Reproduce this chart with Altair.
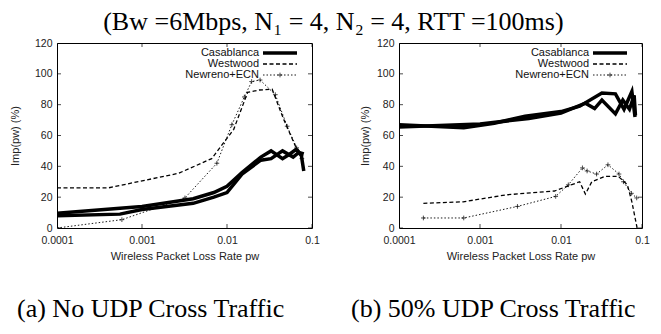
import altair as alt
import pandas as pd

# ---------------- data ----------------
# Panel (a): No UDP cross traffic
a_cas1_x = [1e-4, 6e-4, 1e-3, 4e-3, 7e-3, 1e-2, 1.5e-2, 2.5e-2, 3.3e-2, 4.5e-2, 5.5e-2, 6.5e-2, 7.5e-2, 8e-2]
a_cas1_y = [9.5, 13, 14, 19, 23, 27, 36, 46, 50, 45, 48, 51, 47, 37]
a_cas2_x = [1e-4, 5.5e-4, 1e-3, 4e-3, 7e-3, 1e-2, 1.5e-2, 2.5e-2, 3.3e-2, 4.5e-2, 6e-2, 7e-2, 8e-2]
a_cas2_y = [8, 9, 12, 16, 20, 23, 35, 44, 45, 50, 46, 49, 48]
a_ww_x = [1e-4, 4e-4, 2.7e-3, 6.6e-3, 1.2e-2, 1.75e-2, 2.4e-2, 3.4e-2, 4.6e-2, 6.4e-2, 7.8e-2]
a_ww_y = [26, 26, 35.5, 45, 64, 88, 89.5, 90, 71, 53, 47]
a_nr_x = [1e-4, 5.8e-4, 3.2e-3, 7.6e-3, 1.14e-2, 1.6e-2, 1.95e-2, 2.45e-2, 3.7e-2, 5.1e-2, 6.6e-2, 7.6e-2]
a_nr_y = [0, 5.4, 19.5, 42, 67, 85, 95, 96, 86.5, 66, 52, 45]

# Panel (b): 50% UDP cross traffic
b_cas1_x = [1e-4, 6.3e-4, 1.5e-3, 3.6e-3, 1e-2, 1.7e-2, 3.2e-2, 4.7e-2, 6e-2, 7.5e-2, 8.2e-2]
b_cas1_y = [67, 65, 68, 72.5, 75.5, 79, 87.5, 87, 77, 88.5, 72]
b_cas2_x = [1e-4, 1e-3, 4e-3, 1e-2, 2e-2, 2.6e-2, 3.2e-2, 4.7e-2, 5.8e-2, 7e-2, 8e-2, 8.3e-2]
b_cas2_y = [65.5, 67.5, 71, 74.5, 81, 77.5, 83, 74, 83, 77, 86, 73]
b_ww_x = [2e-4, 6.2e-4, 2.1e-3, 8.3e-3, 1.7e-2, 2e-2, 2.4e-2, 3.5e-2, 5.1e-2, 6.6e-2, 7.5e-2, 8.7e-2]
b_ww_y = [16, 17, 21.5, 24, 30, 22, 30, 33.5, 33.5, 28, 17, 0]
b_nr_x = [2e-4, 6.3e-4, 2.9e-3, 8.6e-3, 1.23e-2, 1.84e-2, 2.1e-2, 2.75e-2, 3.8e-2, 5.2e-2, 5.9e-2, 7.4e-2, 8.6e-2]
b_nr_y = [6.5, 6.5, 14, 20.5, 28, 39, 37, 35, 41, 35, 30, 22.5, 19.5]

series_names = ["Casablanca", "Westwood", "Newreno+ECN"]
x_ticks = [1e-4, 1e-3, 1e-2, 1e-1]
y_ticks = [0, 20, 40, 60, 80, 100, 120]
title_text = "(Bw =6Mbps, N\u2081 = 4, N\u2082 = 4, RTT =100ms)"
captions = ["(a) No UDP Cross Traffic", "(b) 50% UDP Cross Traffic"]

def frame(series, run, xs, ys):
    return pd.DataFrame({"series": series, "run": run, "x": xs, "y": ys})

panels = {
    "a": pd.concat([
        frame("Casablanca", 1, a_cas1_x, a_cas1_y),
        frame("Casablanca", 2, a_cas2_x, a_cas2_y),
        frame("Westwood", 1, a_ww_x, a_ww_y),
        frame("Newreno+ECN", 1, a_nr_x, a_nr_y),
    ], ignore_index=True),
    "b": pd.concat([
        frame("Casablanca", 1, b_cas1_x, b_cas1_y),
        frame("Casablanca", 2, b_cas2_x, b_cas2_y),
        frame("Westwood", 1, b_ww_x, b_ww_y),
        frame("Newreno+ECN", 1, b_nr_x, b_nr_y),
    ], ignore_index=True),
}

SANS = "Liberation Sans"
SERIF = "Liberation Serif"
PLUS = "M-1,0L1,0M0,-1L0,1"

xscale = alt.Scale(type="log", domain=[1e-4, 0.1], nice=False)
yscale = alt.Scale(domain=[0, 120], nice=False)
one = alt.Data(values=[{}])

def panel(df, caption, cap_x, title_pad, W, H, leg_x):
    xax = alt.Axis(values=x_ticks, format="~g", title="Wireless Packet Loss Rate pw",
                   ticks=False, domain=False, grid=False, labelPadding=7, titlePadding=5,
                   labelOverlap=False, labelFlush=False)
    yax = alt.Axis(values=y_ticks, title="Imp(pw) (%)", ticks=False, domain=False,
                   grid=False, labelPadding=5, titlePadding=title_pad, labelOverlap=False)
    X = alt.X("x:Q", scale=xscale, axis=xax)
    Y = alt.Y("y:Q", scale=yscale, axis=yax)
    base = alt.Chart(df)
    cas = base.transform_filter(alt.datum.series == "Casablanca").mark_line(
        color="black", strokeWidth=3.5, clip=True).encode(x=X, y=Y, detail="run:N")
    ww = base.transform_filter(alt.datum.series == "Westwood").mark_line(
        color="black", strokeWidth=1.3, strokeDash=[4, 2.5], clip=True).encode(x=X, y=Y)
    nr = base.transform_filter(alt.datum.series == "Newreno+ECN").mark_line(
        color="black", strokeWidth=0.9, strokeDash=[1.5, 2], clip=True).encode(x=X, y=Y)
    nrp = base.transform_filter(alt.datum.series == "Newreno+ECN").mark_point(
        shape=PLUS, size=22, stroke="black", strokeWidth=1, filled=False, clip=True).encode(x=X, y=Y)

    xt = pd.DataFrame({"v": x_ticks})
    yt = pd.DataFrame({"v": y_ticks})
    tick_layers = []
    for yv in [0, 120]:
        tick_layers.append(alt.Chart(xt).mark_tick(orient="vertical", size=8, thickness=1,
                                                   color="black", clip=True).encode(
            x=alt.X("v:Q", scale=xscale, axis=xax), y=alt.datum(yv, scale=yscale, axis=yax)))
    for xv in [1e-4, 0.1]:
        tick_layers.append(alt.Chart(yt).mark_tick(orient="horizontal", size=8, thickness=1,
                                                   color="black", clip=True).encode(
            y=alt.Y("v:Q", scale=yscale, axis=yax), x=alt.datum(xv, scale=xscale, axis=xax)))

    # manual gnuplot-style legend (label then sample)
    leg = []
    rows = [10, 21, 32]
    styles = [dict(strokeWidth=3.5), dict(strokeWidth=1.3, strokeDash=[4, 2.5]),
              dict(strokeWidth=0.9, strokeDash=[1.5, 2])]
    for name, ly, st in zip(series_names, rows, styles):
        leg.append(alt.Chart(one).mark_text(align="right", baseline="middle", font=SANS,
                                            fontSize=11, color="#111").encode(
            x=alt.value(leg_x), y=alt.value(ly), text=alt.value(name)))
        leg.append(alt.Chart(one).mark_rule(color="black", **st).encode(
            x=alt.value(leg_x + 4), x2=alt.value(leg_x + 38), y=alt.value(ly)))
    leg.append(alt.Chart(one).mark_point(shape=PLUS, size=22, stroke="black", strokeWidth=1,
                                         filled=False).encode(
        x=alt.value(leg_x + 21), y=alt.value(rows[2])))

    cap = alt.Chart(one).mark_text(align="left", baseline="alphabetic", font=SERIF,
                                   fontSize=26, color="black").encode(
        x=alt.value(cap_x), y=alt.value(H + 89), text=alt.value(caption))

    return alt.layer(ww, nr, nrp, cas, *tick_layers, *leg, cap).properties(width=W, height=H)

left = panel(panels["a"], captions[0], -40, 14, 255, 185, 202)
right = panel(panels["b"], captions[1], -48, 6, 243, 185, 190)

chart = alt.hconcat(left, right, spacing=87, bounds="flush").properties(
    padding=0,
    title=alt.TitleParams(title_text, font=SERIF, fontSize=26, fontWeight="normal",
                          anchor="middle", dx=4, offset=3, color="black")
).configure_view(stroke="black", strokeWidth=1).configure_axis(
    labelFont=SANS, labelFontSize=10.5, labelColor="#222", titleFont=SANS,
    titleFontSize=11, titleColor="#222", titleFontWeight="normal")

chart.save("out.html", embed_options={"renderer": "svg", "actions": False})
